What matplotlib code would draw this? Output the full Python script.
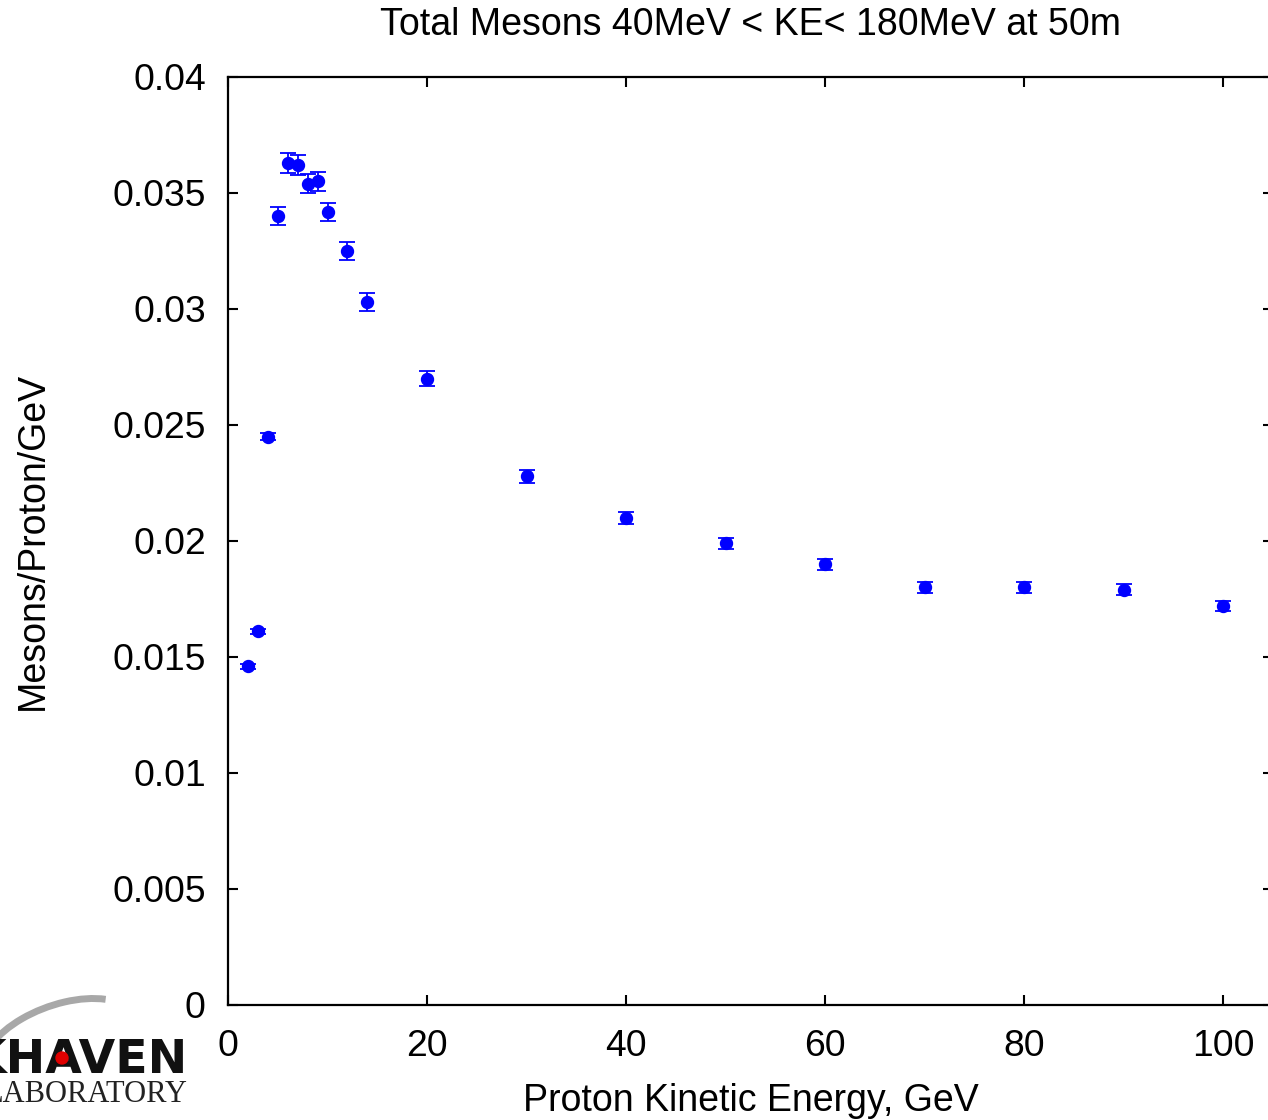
import matplotlib
matplotlib.use("Agg")
import matplotlib.pyplot as plt
from matplotlib.patches import Arc, Circle

# ---- data ----
energy = [2, 3, 4, 5, 6, 7, 8, 9, 10, 12, 14, 20, 30, 40, 50, 60, 70, 80, 90, 100]
mesons = [0.0146, 0.0161, 0.0245, 0.0340, 0.0363, 0.0362, 0.0354, 0.0355, 0.0342,
          0.0325, 0.0303, 0.0270, 0.0228, 0.0210, 0.0199, 0.0190, 0.0180, 0.0180,
          0.0179, 0.0172]
errors = [0.00010, 0.00010, 0.00015, 0.00040, 0.00043, 0.00043, 0.00040, 0.00040,
          0.00039, 0.00038, 0.00037, 0.00032, 0.00028, 0.00026, 0.00024, 0.00024,
          0.00023, 0.00023, 0.00024, 0.00023]
xticks = [0, 20, 40, 60, 80, 100]
yticks = [0, 0.005, 0.01, 0.015, 0.02, 0.025, 0.03, 0.035, 0.04]
ytick_labels = ["0", "0.005", "0.01", "0.015", "0.02", "0.025", "0.03", "0.035", "0.04"]
title = "Total Mesons 40MeV < KE< 180MeV at 50m"
xlabel = "Proton Kinetic Energy, GeV"
ylabel = "Mesons/Proton/GeV"

plt.rcParams['font.family'] = ['Liberation Sans', 'DejaVu Sans']

W, H = 1268, 1120
fig = plt.figure(figsize=(W / 100, H / 100), dpi=100)
fig.patch.set_facecolor('white')

left, right, top, bottom = 228, 1273, 77, 1005
ax = fig.add_axes([left / W, 1 - bottom / H, (right - left) / W, (bottom - top) / H])

ax.errorbar(energy, mesons, yerr=errors, fmt='o', color='#0000ff', ecolor='#0000ff',
            markersize=8.6, elinewidth=1.3, capsize=6, capthick=1.3)

ax.set_xlim(0, 105)
ax.set_ylim(0, 0.04)
ax.set_xticks(xticks)
ax.set_xticklabels([str(t) for t in xticks])
ax.set_yticks(yticks)
ax.set_yticklabels(ytick_labels)
ax.tick_params(direction='in', length=7.5, width=1.5, labelsize=26.8,
               top=True, right=True, colors='black')
ax.tick_params(axis='x', pad=17)
ax.tick_params(axis='y', pad=16)
for s in ax.spines.values():
    s.set_linewidth(1.6)

ax.set_title(title, fontsize=27, pad=30)
ax.set_xlabel(xlabel, fontsize=27, labelpad=14)
ax.set_ylabel(ylabel, fontsize=27, labelpad=44)

# ---- partial logo in lower-left corner ----
lax = fig.add_axes([0, 0, 1, 1], zorder=-1)
lax.set_xlim(0, W)
lax.set_ylim(0, H)
lax.axis('off')
lax.add_patch(Arc((60, 1120 - 1045), 160, 80, angle=20, theta1=25, theta2=178,
                  color='#a8a8a8', lw=5))
lax.text(-30, 1120 - 1073, "KHAVEN", fontsize=34, fontweight='bold',
         family='DejaVu Sans', color='#111111', ha='left', va='baseline')
lax.add_patch(Circle((62, 1120 - 1058), 6, color='#e00000', zorder=5))
lax.text(-16, 1120 - 1102, "LABORATORY", fontsize=22, family='Liberation Serif',
         color='#222222', ha='left', va='baseline')

fig.savefig("out.png", dpi=100, facecolor='white')
